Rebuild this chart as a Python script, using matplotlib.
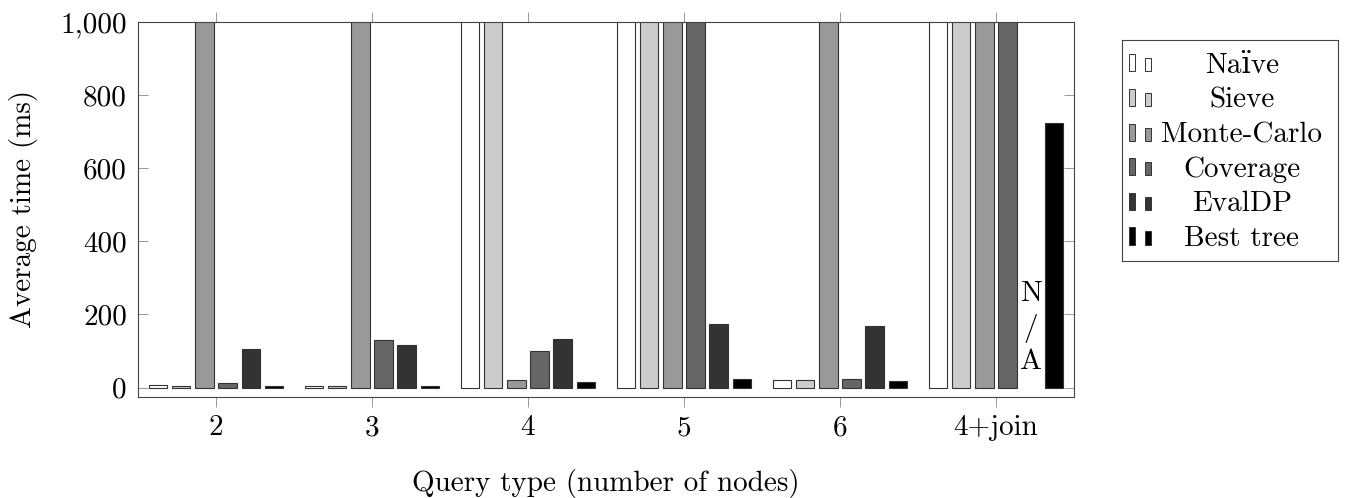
import matplotlib.pyplot as plt
from matplotlib.patches import Rectangle
import numpy as np

plt.rcParams['font.family'] = ['cmr10', 'DejaVu Serif']
plt.rcParams['mathtext.fontset'] = 'cm'
plt.rcParams['axes.formatter.use_mathtext'] = True

# query types on the x axis
groups = ['2', '3', '4', '5', '6', '4+join']

# average time (ms); None = off the scale (> 1000), 'N/A' = not available
naive    = [6, 5, None, None, 20, None]
sieve    = [5, 4, None, None, 20, None]
monte    = [None, None, 22, None, None, None]
coverage = [12, 131, 100, None, 24, None]
evaldp   = [106, 117, 132, 173, 168, 'N/A']
best     = [4, 4, 16, 23, 18, 722]

series = ['Naïve', 'Sieve', 'Monte-Carlo', 'Coverage', 'EvalDP', 'Best tree']
colors = ['#ffffff', '#cccccc', '#999999', '#666666', '#333333', '#000000']

yticks = [0, 200, 400, 600, 800, 1000]
ytick_labels = ['0', '200', '400', '600', '800', '1,000']
YMIN, YMAX = -25, 1000

FS = 21

fig = plt.figure(figsize=(13.49, 4.98), dpi=100)
ax = fig.add_axes([0.1023, 0.2034, 0.6938, 0.753])

x = np.arange(len(groups))
pitch = 0.148
width = 0.117
all_vals = [naive, sieve, monte, coverage, evaldp, best]

for i, (vals, col) in enumerate(zip(all_vals, colors)):
    pos = x + (i - 2.5) * pitch
    for p, v in zip(pos, vals):
        if v == 'N/A':
            ax.text(p, 33, 'N\n/\nA', ha='center', va='bottom', fontsize=FS,
                    linespacing=1.3)
            continue
        h = YMAX * 2 if v is None else v
        ax.bar(p, h, width=width, color=col, edgecolor='#333333', linewidth=0.8)

ax.set_xlim(-0.5, len(groups) - 0.5)
ax.set_ylim(YMIN, YMAX)
ax.set_xticks(x)
ax.set_xticklabels(groups)
ax.set_yticks(yticks)
ax.set_yticklabels(ytick_labels)

ax.tick_params(axis='x', direction='out', length=7.2, width=0.7, color='#999999',
               top=True, labelsize=FS, pad=6)
ax.tick_params(axis='y', direction='in', length=7.2, width=0.7, color='#999999',
               right=True, labelsize=FS, pad=8)
for s in ax.spines.values():
    s.set_color('#444444')
    s.set_linewidth(0.8)

ax.set_xlabel('Query type (number of nodes)', fontsize=FS, labelpad=20)
ax.set_ylabel('Average time (ms)', fontsize=FS, labelpad=16)

# legend box with centred labels, drawn in its own axes (pixel units)
lax = fig.add_axes([0.8317, 0.4759, 0.1601, 0.4428])
lax.set_xlim(0, 216)
lax.set_ylim(220.5, 0)
lax.set_xticks([])
lax.set_yticks([])
for s in lax.spines.values():
    s.set_color('#444444')
    s.set_linewidth(0.8)
for i, (name, col) in enumerate(zip(series, colors)):
    base = 31 + 34.6 * i
    lax.add_patch(Rectangle((7, base), 6, -17, facecolor=col, edgecolor='#333333', lw=0.7))
    lax.add_patch(Rectangle((23, base), 6, -13, facecolor=col, edgecolor='#333333', lw=0.7))
    lax.text(120, base + 1.5, name, ha='center', va='baseline', fontsize=FS)

fig.savefig('out.png', dpi=100)
